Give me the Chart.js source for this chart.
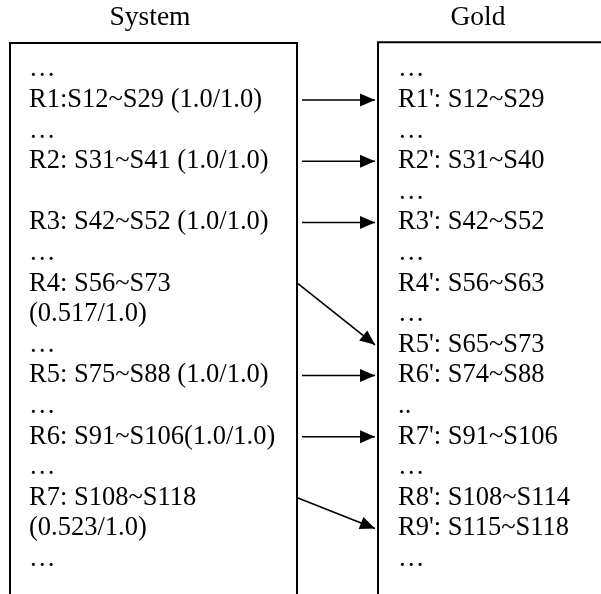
<!DOCTYPE html>
<html>
<head>
<meta charset="utf-8">
<script src="https://cdn.jsdelivr.net/npm/chart.js@4.4.0/dist/chart.umd.min.js"></script>
<style>
  html, body { margin: 0; padding: 0; background: #ffffff; }
  #wrap { width: 601px; height: 594px; }
</style>
</head>
<body>
<div id="wrap"><canvas id="c" width="601" height="594"></canvas></div>
<script>
// ---- data (row index = line number inside each box) ----
const columnTitles = ['System', 'Gold'];
const systemLines = ['…', 'R1:S12~S29 (1.0/1.0)', '…', 'R2: S31~S41 (1.0/1.0)', '', 'R3: S42~S52 (1.0/1.0)', '…',
  'R4: S56~S73', '(0.517/1.0)', '…', 'R5: S75~S88 (1.0/1.0)', '…', 'R6: S91~S106(1.0/1.0)', '…',
  'R7: S108~S118', '(0.523/1.0)', '…'];
const goldLines = ['…', "R1': S12~S29", '…', "R2': S31~S40", '…', "R3': S42~S52", '…', "R4': S56~S63", '…',
  "R5': S65~S73", "R6': S74~S88", '..', "R7': S91~S106", '…', "R8': S108~S114", "R9': S115~S118", '…'];
const arrowFromRow = [1, 3, 5, 7, 10, 12, 14];
const arrowToRow = [1, 3, 5, 9, 10, 12, 15];

// ---- layout (page units on x, row units on y) ----
const L = {
  rowMin: -2.268, rowMax: 17.14,
  leftBox: { x0: 10, x1: 297, top: -0.86 },
  rightBox: { x0: 378, x1: 640, top: -0.89 },
  leftTextX: 29, rightTextX: 398,
  titleX: [150, 478], titleRow: -1.69,
  arrowStartX: 302, diagStartX: 298, arrowEndX: 375,
  font: '26.5px "Liberation Serif", "Times New Roman", serif',
  titleFont: '27.5px "Liberation Serif", "Times New Roman", serif'
};

const boxBottom = L.rowMax + 1;
const datasets = [];
function boxData(b, leftOnly) {
  if (leftOnly) return [{x: b.x0, y: boxBottom}, {x: b.x0, y: b.top}, {x: b.x1, y: b.top}];
  return [{x: b.x0, y: boxBottom}, {x: b.x0, y: b.top}, {x: b.x1, y: b.top}, {x: b.x1, y: boxBottom}];
}
datasets.push({ label: 'System box', data: boxData(L.leftBox, false), showLine: true, borderColor: '#000', borderWidth: 2,
  pointRadius: 0, fill: false, tension: 0, borderJoinStyle: 'miter', borderCapStyle: 'butt' });
datasets.push({ label: 'Gold box', data: boxData(L.rightBox, true), showLine: true, borderColor: '#000', borderWidth: 2,
  pointRadius: 0, fill: false, tension: 0, borderJoinStyle: 'miter', borderCapStyle: 'butt' });
arrowFromRow.forEach((r, i) => {
  const diag = r !== arrowToRow[i];
  datasets.push({ label: 'arrow', isArrow: true,
    data: [{x: diag ? L.diagStartX : L.arrowStartX, y: r}, {x: L.arrowEndX, y: arrowToRow[i]}],
    showLine: true, borderColor: '#000', borderWidth: 1.6, pointRadius: 0, fill: false, tension: 0 });
});

const diagramPlugin = {
  id: 'diagram',
  afterDatasetsDraw(chart) {
    const ctx = chart.ctx, xs = chart.scales.x, ys = chart.scales.y;
    ctx.save();
    // arrow heads
    chart.data.datasets.forEach(ds => {
      if (!ds.isArrow) return;
      const a = ds.data[0], b = ds.data[1];
      const ax = xs.getPixelForValue(a.x), ay = ys.getPixelForValue(a.y);
      const bx = xs.getPixelForValue(b.x), by = ys.getPixelForValue(b.y);
      const ang = Math.atan2(by - ay, bx - ax);
      const len = 15, half = 6.5;
      ctx.beginPath();
      ctx.moveTo(bx, by);
      ctx.lineTo(bx - len * Math.cos(ang) + half * Math.sin(ang), by - len * Math.sin(ang) - half * Math.cos(ang));
      ctx.lineTo(bx - len * Math.cos(ang) - half * Math.sin(ang), by - len * Math.sin(ang) + half * Math.cos(ang));
      ctx.closePath();
      ctx.fillStyle = '#000';
      ctx.fill();
    });
    // text
    ctx.fillStyle = '#000';
    ctx.textBaseline = 'middle';
    ctx.font = L.titleFont;
    ctx.textAlign = 'center';
    columnTitles.forEach((t, i) => ctx.fillText(t, xs.getPixelForValue(L.titleX[i]), ys.getPixelForValue(L.titleRow)));
    ctx.font = L.font;
    ctx.textAlign = 'left';
    systemLines.forEach((t, r) => ctx.fillText(t, xs.getPixelForValue(L.leftTextX), ys.getPixelForValue(r)));
    goldLines.forEach((t, r) => ctx.fillText(t, xs.getPixelForValue(L.rightTextX), ys.getPixelForValue(r)));
    ctx.restore();
  }
};

new Chart(document.getElementById('c'), {
  type: 'scatter',
  data: { datasets },
  options: {
    responsive: false,
    animation: false,
    events: [],
    layout: { padding: 0 },
    plugins: { legend: { display: false }, tooltip: { enabled: false }, title: { display: false } },
    scales: {
      x: { type: 'linear', min: 0, max: 601, display: false },
      y: { type: 'linear', min: L.rowMin, max: L.rowMax, reverse: true, display: false }
    }
  },
  plugins: [diagramPlugin]
});
</script>
</body>
</html>
